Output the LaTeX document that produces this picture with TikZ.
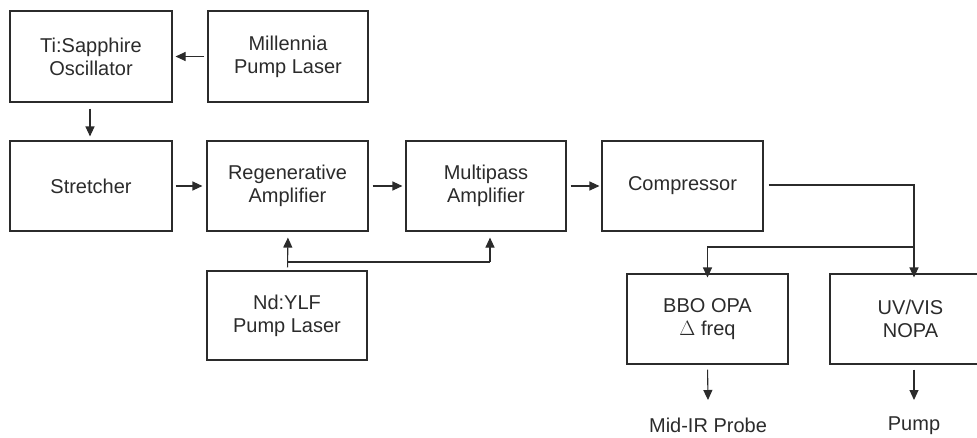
\documentclass[tikz,border=0pt]{standalone}
\usepackage{fontspec}
\setmainfont{Liberation Sans}
\usetikzlibrary{arrows.meta,calc}
\definecolor{ink}{HTML}{2B2B2B}
\tikzset{
  stage/.style={draw=ink, line width=1.1pt, rectangle, align=center, text=ink,
    minimum width=161pt, minimum height=90pt, inner sep=0pt,
    font=\fontsize{20}{23}\selectfont},
  flow/.style={draw=ink, line width=1.1pt, -{Triangle[length=10pt,width=9pt]}},
  wire/.style={draw=ink, line width=1.1pt},
  outlabel/.style={text=ink, inner sep=0pt, font=\fontsize{20}{23}\selectfont}
}
\begin{document}
\begin{tikzpicture}[x=1pt,y=-1pt]
\useasboundingbox (0,0) rectangle (977,437);

% oscillator row
\node[stage, minimum width=162pt, minimum height=91pt] (ti)   at (91,56.5)  {Ti:Sapphire\\Oscillator};
\node[stage, minimum width=160pt, minimum height=91pt] (mill) at (288,56.5) {Millennia\\Pump Laser};

% amplifier chain
\node[stage, minimum width=162pt] (str)   at (91,186)    {Stretcher};
\node[stage] (regen) at (287.5,186)  {Regenerative\\Amplifier};
\node[stage, minimum width=160pt] (multi) at (486,186)    {Multipass\\Amplifier};
\node[stage] (comp)  at (682.5,186)  {Compressor};

% pump laser for the amplifiers
\node[stage, minimum width=160pt, minimum height=89pt] (nd) at (287,315.5) {Nd:YLF\\Pump Laser};

% parametric amplifiers
\node[stage] (bbo) at (707.5,319) {BBO OPA\\$\Delta$ freq};
\node[stage] (uv)  at (910.5,319) {UV/VIS\\NOPA};

% outputs
\node[outlabel] (midir) at (708,425.5) {Mid-IR Probe};
\node[outlabel] (pump)  at (914,425.5) {Pump};
\coordinate (midirtip) at (708,400);
\coordinate (pumptip)  at (914,400);

% routing points
\coordinate (cbend)  at (914,185);
\coordinate (csplit) at (914,247);
\coordinate (ndtap)  at (288,262);
\coordinate (mtap)   at (490,262);

% connectors
\draw[flow, shorten <=3pt, shorten >=3pt] (mill.west) -- (ti.east);
\draw[flow, shorten <=6pt, shorten >=4pt] ([xshift=-1pt]ti.south) -- ([xshift=-1pt]str.north);
\draw[flow, shorten <=3pt, shorten >=4pt] (str.east) -- (regen.west);
\draw[flow, shorten <=4pt, shorten >=3pt] (regen.east) -- (multi.west);
\draw[flow, shorten <=4pt, shorten >=2pt] (multi.east) -- (comp.west);

\draw[flow, shorten <=5pt] (comp.east |- cbend) -- (cbend) -- ([yshift=-4pt]cbend |- uv.north);
\draw[flow] (csplit) -- (csplit -| bbo.north) -- ([yshift=-4pt]bbo.north);

\draw[flow, shorten <=3pt, shorten >=6pt] ([xshift=0.5pt]nd.north) -- ([xshift=0.5pt]regen.south);
\draw[wire] (ndtap) -- (mtap);
\draw[flow, shorten >=6pt] (mtap) -- (mtap |- multi.south);

\draw[flow, shorten <=5pt] (bbo.south) -- (midirtip);
\draw[flow, shorten <=5pt] (cbend |- uv.south) -- (pumptip);
\end{tikzpicture}
\end{document}
